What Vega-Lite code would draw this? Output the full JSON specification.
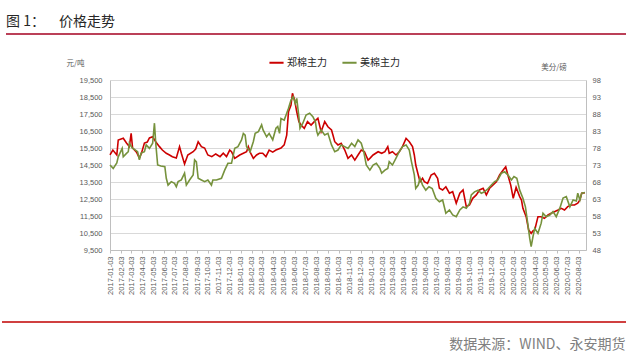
{
  "$schema": "https://vega.github.io/schema/vega-lite/v6.json",
  "autosize": {"type": "none"},
  "width": 476,
  "height": 170,
  "padding": {"left": 110, "top": 80, "right": 46, "bottom": 107},
  "background": "white",
  "title": {
    "text": "图 1：\u2002\u2002价格走势",
    "anchor": "start",
    "frame": "group",
    "dx": -104,
    "font": "Noto Sans CJK SC",
    "fontSize": 14,
    "fontWeight": "normal",
    "color": "#262626"
  },
  "config": {
    "view": {"stroke": null},
    "axis": {"labelFont": "Liberation Sans", "labelFontSize": 7.5, "labelColor": "#595959", "domainColor": "#bfbfbf", "tickColor": "#bfbfbf", "titleFont": "Noto Sans CJK SC", "titleFontWeight": "normal", "titleColor": "#595959", "titleFontSize": 7.5},
    "axisX": {"labelOverlap": false, "labelBound": false, "labelFlush": false}
  },
  "datasets": {
    "zc": [
      {"d":"2017-01-03","v":15090},{"d":"2017-01-11","v":15380},{"d":"2017-01-22","v":15090},{"d":"2017-01-26","v":15970},{"d":"2017-02-09","v":16070},{"d":"2017-02-18","v":15790},{"d":"2017-02-26","v":15580},{"d":"2017-03-03","v":16360},{"d":"2017-03-07","v":15500},{"d":"2017-03-18","v":15260},{"d":"2017-03-26","v":14910},{"d":"2017-04-01","v":15210},{"d":"2017-04-09","v":15790},{"d":"2017-04-17","v":15850},{"d":"2017-04-23","v":16090},{"d":"2017-05-02","v":16160},{"d":"2017-05-11","v":15850},{"d":"2017-05-21","v":15580},{"d":"2017-05-29","v":15380},{"d":"2017-06-09","v":15190},{"d":"2017-06-18","v":15090},{"d":"2017-06-26","v":14990},{"d":"2017-07-07","v":14910},{"d":"2017-07-16","v":15580},{"d":"2017-07-21","v":15190},{"d":"2017-07-30","v":14560},{"d":"2017-08-08","v":15090},{"d":"2017-08-23","v":15280},{"d":"2017-08-30","v":15440},{"d":"2017-09-06","v":15870},{"d":"2017-09-15","v":15580},{"d":"2017-09-24","v":15500},{"d":"2017-10-03","v":15090},{"d":"2017-10-14","v":14990},{"d":"2017-10-25","v":15150},{"d":"2017-11-06","v":14990},{"d":"2017-11-15","v":15190},{"d":"2017-11-24","v":14990},{"d":"2017-12-03","v":15380},{"d":"2017-12-08","v":15280},{"d":"2017-12-17","v":14890},{"d":"2017-12-31","v":15090},{"d":"2018-01-10","v":15190},{"d":"2018-01-19","v":15280},{"d":"2018-01-24","v":15580},{"d":"2018-01-29","v":15260},{"d":"2018-02-07","v":14890},{"d":"2018-02-16","v":15090},{"d":"2018-02-24","v":15190},{"d":"2018-03-05","v":15190},{"d":"2018-03-14","v":14990},{"d":"2018-03-23","v":15380},{"d":"2018-04-02","v":15260},{"d":"2018-04-11","v":15380},{"d":"2018-04-25","v":15500},{"d":"2018-05-04","v":15680},{"d":"2018-05-11","v":16260},{"d":"2018-05-16","v":17630},{"d":"2018-05-23","v":18030},{"d":"2018-05-27","v":18720},{"d":"2018-06-02","v":18320},{"d":"2018-06-08","v":17630},{"d":"2018-06-14","v":17050},{"d":"2018-06-20","v":16850},{"d":"2018-06-29","v":16660},{"d":"2018-07-08","v":17050},{"d":"2018-07-18","v":16850},{"d":"2018-07-27","v":17050},{"d":"2018-08-06","v":17250},{"d":"2018-08-15","v":16460},{"d":"2018-08-25","v":17050},{"d":"2018-09-03","v":16750},{"d":"2018-09-13","v":16560},{"d":"2018-09-17","v":16260},{"d":"2018-09-22","v":15870},{"d":"2018-10-01","v":15680},{"d":"2018-10-10","v":15780},{"d":"2018-10-20","v":15380},{"d":"2018-10-29","v":14890},{"d":"2018-11-08","v":15090},{"d":"2018-11-17","v":14790},{"d":"2018-11-26","v":15090},{"d":"2018-12-05","v":15380},{"d":"2018-12-14","v":15280},{"d":"2018-12-24","v":14790},{"d":"2018-12-29","v":14890},{"d":"2019-01-07","v":15090},{"d":"2019-01-21","v":15280},{"d":"2019-01-31","v":15190},{"d":"2019-02-09","v":15280},{"d":"2019-02-17","v":15580},{"d":"2019-02-21","v":15190},{"d":"2019-03-02","v":15280},{"d":"2019-03-12","v":15090},{"d":"2019-03-21","v":15280},{"d":"2019-03-30","v":15580},{"d":"2019-04-09","v":16070},{"d":"2019-04-18","v":15870},{"d":"2019-04-27","v":15580},{"d":"2019-05-02","v":15090},{"d":"2019-05-06","v":14500},{"d":"2019-05-13","v":13910},{"d":"2019-05-18","v":13520},{"d":"2019-05-25","v":13720},{"d":"2019-05-30","v":13520},{"d":"2019-06-08","v":13420},{"d":"2019-06-18","v":13910},{"d":"2019-06-27","v":14010},{"d":"2019-07-06","v":13720},{"d":"2019-07-11","v":13130},{"d":"2019-07-20","v":13030},{"d":"2019-07-29","v":13220},{"d":"2019-08-08","v":12840},{"d":"2019-08-17","v":12930},{"d":"2019-08-27","v":12250},{"d":"2019-09-06","v":12840},{"d":"2019-09-15","v":13030},{"d":"2019-09-24","v":12050},{"d":"2019-10-03","v":12150},{"d":"2019-10-12","v":12540},{"d":"2019-10-22","v":12740},{"d":"2019-10-31","v":13030},{"d":"2019-11-10","v":13130},{"d":"2019-11-19","v":12740},{"d":"2019-11-28","v":13130},{"d":"2019-12-07","v":13320},{"d":"2019-12-17","v":13520},{"d":"2019-12-26","v":13910},{"d":"2020-01-05","v":14210},{"d":"2020-01-12","v":14400},{"d":"2020-01-18","v":13910},{"d":"2020-01-26","v":13320},{"d":"2020-02-02","v":12540},{"d":"2020-02-10","v":13180},{"d":"2020-02-20","v":12640},{"d":"2020-02-25","v":12440},{"d":"2020-02-29","v":11950},{"d":"2020-03-09","v":11460},{"d":"2020-03-16","v":10680},{"d":"2020-03-23","v":10480},{"d":"2020-03-28","v":10620},{"d":"2020-04-02","v":10680},{"d":"2020-04-11","v":11460},{"d":"2020-04-20","v":11460},{"d":"2020-04-29","v":11360},{"d":"2020-05-09","v":11560},{"d":"2020-05-18","v":11660},{"d":"2020-05-27","v":11750},{"d":"2020-06-06","v":11850},{"d":"2020-06-15","v":11950},{"d":"2020-06-24","v":11850},{"d":"2020-07-03","v":12050},{"d":"2020-07-13","v":12150},{"d":"2020-07-22","v":12150},{"d":"2020-07-31","v":12250},{"d":"2020-08-06","v":12440},{"d":"2020-08-11","v":12840},{"d":"2020-08-20","v":12870}
    ],
    "mc": [
      {"d":"2017-01-03","v":73.0},{"d":"2017-01-12","v":72.0},{"d":"2017-01-22","v":73.6},{"d":"2017-01-26","v":75.4},{"d":"2017-02-06","v":77.9},{"d":"2017-02-09","v":75.4},{"d":"2017-02-18","v":76.4},{"d":"2017-02-23","v":76.9},{"d":"2017-02-26","v":79.4},{"d":"2017-03-06","v":78.0},{"d":"2017-03-15","v":77.4},{"d":"2017-03-21","v":76.9},{"d":"2017-03-26","v":74.5},{"d":"2017-03-31","v":76.5},{"d":"2017-04-09","v":76.9},{"d":"2017-04-14","v":78.9},{"d":"2017-04-23","v":77.9},{"d":"2017-05-02","v":79.4},{"d":"2017-05-07","v":85.3},{"d":"2017-05-11","v":78.9},{"d":"2017-05-16","v":73.0},{"d":"2017-05-25","v":72.7},{"d":"2017-06-05","v":72.5},{"d":"2017-06-09","v":69.1},{"d":"2017-06-14","v":67.1},{"d":"2017-06-23","v":68.1},{"d":"2017-07-02","v":67.6},{"d":"2017-07-07","v":66.6},{"d":"2017-07-12","v":68.1},{"d":"2017-07-21","v":68.6},{"d":"2017-07-30","v":70.6},{"d":"2017-08-04","v":67.1},{"d":"2017-08-13","v":68.6},{"d":"2017-08-23","v":70.1},{"d":"2017-08-27","v":74.5},{"d":"2017-09-01","v":73.9},{"d":"2017-09-06","v":69.1},{"d":"2017-09-15","v":68.6},{"d":"2017-09-24","v":68.1},{"d":"2017-10-03","v":68.6},{"d":"2017-10-13","v":67.1},{"d":"2017-10-17","v":68.6},{"d":"2017-10-27","v":68.6},{"d":"2017-11-10","v":69.1},{"d":"2017-11-19","v":71.5},{"d":"2017-11-28","v":73.5},{"d":"2017-12-08","v":73.5},{"d":"2017-12-17","v":77.9},{"d":"2017-12-26","v":78.4},{"d":"2018-01-05","v":80.4},{"d":"2018-01-10","v":82.3},{"d":"2018-01-15","v":81.8},{"d":"2018-01-19","v":78.4},{"d":"2018-01-29","v":76.9},{"d":"2018-02-07","v":79.9},{"d":"2018-02-12","v":82.3},{"d":"2018-02-21","v":82.8},{"d":"2018-03-02","v":84.8},{"d":"2018-03-06","v":83.3},{"d":"2018-03-16","v":81.3},{"d":"2018-03-23","v":82.3},{"d":"2018-04-02","v":80.4},{"d":"2018-04-11","v":83.8},{"d":"2018-04-16","v":84.3},{"d":"2018-04-21","v":82.3},{"d":"2018-04-25","v":86.7},{"d":"2018-05-04","v":86.2},{"d":"2018-05-11","v":88.2},{"d":"2018-05-16","v":89.7},{"d":"2018-05-23","v":92.1},{"d":"2018-05-29","v":93.1},{"d":"2018-06-04","v":91.1},{"d":"2018-06-08","v":92.6},{"d":"2018-06-14","v":87.2},{"d":"2018-06-17","v":83.8},{"d":"2018-06-25","v":85.3},{"d":"2018-07-04","v":87.7},{"d":"2018-07-14","v":88.2},{"d":"2018-07-23","v":87.2},{"d":"2018-07-30","v":85.7},{"d":"2018-08-03","v":82.8},{"d":"2018-08-06","v":81.8},{"d":"2018-08-15","v":83.3},{"d":"2018-08-25","v":81.8},{"d":"2018-09-03","v":82.3},{"d":"2018-09-13","v":78.9},{"d":"2018-09-22","v":76.9},{"d":"2018-10-01","v":77.4},{"d":"2018-10-10","v":78.9},{"d":"2018-10-20","v":78.4},{"d":"2018-10-29","v":77.9},{"d":"2018-11-08","v":79.4},{"d":"2018-11-17","v":78.4},{"d":"2018-11-26","v":80.4},{"d":"2018-12-05","v":79.4},{"d":"2018-12-12","v":76.9},{"d":"2018-12-19","v":73.0},{"d":"2018-12-29","v":71.5},{"d":"2019-01-07","v":73.0},{"d":"2019-01-16","v":73.5},{"d":"2019-01-26","v":72.0},{"d":"2019-01-31","v":70.6},{"d":"2019-02-09","v":71.5},{"d":"2019-02-17","v":72.0},{"d":"2019-02-21","v":74.0},{"d":"2019-03-02","v":73.0},{"d":"2019-03-12","v":75.0},{"d":"2019-03-21","v":76.9},{"d":"2019-03-30","v":78.4},{"d":"2019-04-09","v":78.9},{"d":"2019-04-18","v":77.4},{"d":"2019-04-24","v":74.0},{"d":"2019-05-02","v":70.1},{"d":"2019-05-06","v":66.1},{"d":"2019-05-13","v":67.1},{"d":"2019-05-18","v":69.1},{"d":"2019-05-25","v":67.1},{"d":"2019-06-03","v":65.6},{"d":"2019-06-12","v":66.6},{"d":"2019-06-21","v":66.1},{"d":"2019-07-01","v":63.2},{"d":"2019-07-11","v":62.2},{"d":"2019-07-20","v":62.7},{"d":"2019-07-29","v":58.8},{"d":"2019-08-08","v":59.8},{"d":"2019-08-17","v":58.3},{"d":"2019-08-27","v":57.8},{"d":"2019-09-06","v":59.8},{"d":"2019-09-15","v":60.7},{"d":"2019-09-24","v":60.3},{"d":"2019-10-03","v":61.7},{"d":"2019-10-08","v":64.2},{"d":"2019-10-17","v":65.1},{"d":"2019-10-27","v":65.6},{"d":"2019-11-05","v":64.7},{"d":"2019-11-14","v":65.1},{"d":"2019-11-24","v":66.1},{"d":"2019-12-03","v":67.1},{"d":"2019-12-12","v":68.1},{"d":"2019-12-21","v":68.6},{"d":"2019-12-31","v":70.6},{"d":"2020-01-09","v":71.0},{"d":"2020-01-18","v":70.1},{"d":"2020-01-28","v":68.6},{"d":"2020-02-04","v":69.6},{"d":"2020-02-12","v":69.1},{"d":"2020-02-20","v":65.6},{"d":"2020-02-29","v":63.2},{"d":"2020-03-07","v":60.7},{"d":"2020-03-14","v":55.4},{"d":"2020-03-19","v":51.4},{"d":"2020-03-23","v":49.0},{"d":"2020-03-28","v":51.9},{"d":"2020-04-02","v":54.4},{"d":"2020-04-11","v":52.9},{"d":"2020-04-20","v":55.9},{"d":"2020-04-25","v":58.8},{"d":"2020-05-04","v":57.8},{"d":"2020-05-14","v":58.3},{"d":"2020-05-23","v":59.3},{"d":"2020-06-01","v":57.8},{"d":"2020-06-11","v":60.3},{"d":"2020-06-20","v":63.3},{"d":"2020-06-29","v":63.7},{"d":"2020-07-09","v":60.7},{"d":"2020-07-18","v":62.7},{"d":"2020-07-27","v":62.4},{"d":"2020-07-31","v":64.7},{"d":"2020-08-06","v":62.7},{"d":"2020-08-11","v":64.7},{"d":"2020-08-20","v":64.9}
    ]
  },
  "encoding": {
    "x": {
      "field": "d", "type": "temporal",
      "scale": {"type": "utc", "domain": [{"year": 2017, "month": 1, "date": 3, "utc": true}, {"year": 2020, "month": 8, "date": 23, "utc": true}]},
      "axis": {
        "title": "数据来源：WIND、永安期货",
        "titleX": 515, "titleY": 98, "titleAlign": "right", "titleBaseline": "alphabetic", "titleAnchor": null,
        "titleFontSize": 14, "titleColor": "#808080",
        "format": "%Y-%m-%d", "labelAngle": 270, "labelOverlap": false, "labelBound": false, "labelFlush": false, "labelSeparation": 0,
        "tickSize": 3, "labelPadding": 3, "grid": false,
        "values": [
          {"year":2017,"month":1,"date":3,"utc":true},{"year":2017,"month":2,"date":3,"utc":true},{"year":2017,"month":3,"date":3,"utc":true},{"year":2017,"month":4,"date":3,"utc":true},{"year":2017,"month":5,"date":3,"utc":true},{"year":2017,"month":6,"date":3,"utc":true},{"year":2017,"month":7,"date":3,"utc":true},{"year":2017,"month":8,"date":3,"utc":true},{"year":2017,"month":9,"date":3,"utc":true},{"year":2017,"month":10,"date":3,"utc":true},{"year":2017,"month":11,"date":3,"utc":true},{"year":2017,"month":12,"date":3,"utc":true},
          {"year":2018,"month":1,"date":3,"utc":true},{"year":2018,"month":2,"date":3,"utc":true},{"year":2018,"month":3,"date":3,"utc":true},{"year":2018,"month":4,"date":3,"utc":true},{"year":2018,"month":5,"date":3,"utc":true},{"year":2018,"month":6,"date":3,"utc":true},{"year":2018,"month":7,"date":3,"utc":true},{"year":2018,"month":8,"date":3,"utc":true},{"year":2018,"month":9,"date":3,"utc":true},{"year":2018,"month":10,"date":3,"utc":true},{"year":2018,"month":11,"date":3,"utc":true},{"year":2018,"month":12,"date":3,"utc":true},
          {"year":2019,"month":1,"date":3,"utc":true},{"year":2019,"month":2,"date":3,"utc":true},{"year":2019,"month":3,"date":3,"utc":true},{"year":2019,"month":4,"date":3,"utc":true},{"year":2019,"month":5,"date":3,"utc":true},{"year":2019,"month":6,"date":3,"utc":true},{"year":2019,"month":7,"date":3,"utc":true},{"year":2019,"month":8,"date":3,"utc":true},{"year":2019,"month":9,"date":3,"utc":true},{"year":2019,"month":10,"date":3,"utc":true},{"year":2019,"month":11,"date":3,"utc":true},{"year":2019,"month":12,"date":3,"utc":true},
          {"year":2020,"month":1,"date":3,"utc":true},{"year":2020,"month":2,"date":3,"utc":true},{"year":2020,"month":3,"date":3,"utc":true},{"year":2020,"month":4,"date":3,"utc":true},{"year":2020,"month":5,"date":3,"utc":true},{"year":2020,"month":6,"date":3,"utc":true},{"year":2020,"month":7,"date":3,"utc":true},{"year":2020,"month":8,"date":3,"utc":true}
        ]
      }
    }
  },
  "layer": [
    {
      "data": {"values": [{"k": "top"}]},
      "mark": {"type": "rule", "color": "#A50021", "strokeWidth": 1.5},
      "encoding": {"x": {"value": -104}, "x2": {"value": 516}, "y": {"value": -46}}
    },
    {
      "data": {"values": [{"k": "bottom"}]},
      "mark": {"type": "rule", "color": "#C00000", "strokeWidth": 1.5},
      "encoding": {"x": {"value": -108}, "x2": {"value": 516}, "y": {"value": 242}}
    },
    {
      "data": {"name": "zc"},
      "mark": {"type": "line", "strokeWidth": 1.6, "color": "#CC0000"},
      "encoding": {
        "y": {
          "field": "v", "type": "quantitative",
          "scale": {"domain": [9500, 19500], "nice": false, "zero": false},
          "axis": {
            "title": "元/吨", "titleAngle": 0, "titleX": -35, "titleY": -14.5, "titleAlign": "center", "titleBaseline": "alphabetic", "titleAnchor": null,
            "values": [9500, 10500, 11500, 12500, 13500, 14500, 15500, 16500, 17500, 18500, 19500],
            "format": ",.0f", "ticks": false, "labelPadding": 8, "grid": true, "gridColor": "#d9d9d9", "gridWidth": 1
          }
        },
        "color": {
          "datum": "郑棉主力", "type": "nominal",
          "scale": {"domain": ["郑棉主力", "美棉主力"], "range": ["#CC0000", "#76923C"]},
          "legend": {
            "orient": "none", "legendX": 158, "legendY": -26, "direction": "horizontal", "title": null,
            "symbolType": "stroke", "symbolStrokeWidth": 2, "symbolSize": 200,
            "labelFont": "Noto Sans CJK SC", "labelFontSize": 10, "labelColor": "#262626", "labelOffset": 2, "columnPadding": 11
          }
        }
      }
    },
    {
      "data": {"name": "mc"},
      "mark": {"type": "line", "strokeWidth": 1.6, "color": "#76923C"},
      "encoding": {
        "y": {
          "field": "v", "type": "quantitative",
          "scale": {"domain": [48, 98], "nice": false, "zero": false},
          "axis": {
            "orient": "right", "title": "美分/磅", "titleAngle": 0, "titleX": -32.5, "titleY": -11, "titleAlign": "center", "titleBaseline": "alphabetic", "titleAnchor": null,
            "values": [48, 53, 58, 63, 68, 73, 78, 83, 88, 93, 98],
            "ticks": false, "labelPadding": 6, "grid": false
          }
        },
        "color": {"datum": "美棉主力", "type": "nominal"}
      }
    }
  ],
  "resolve": {"scale": {"y": "independent"}}
}
